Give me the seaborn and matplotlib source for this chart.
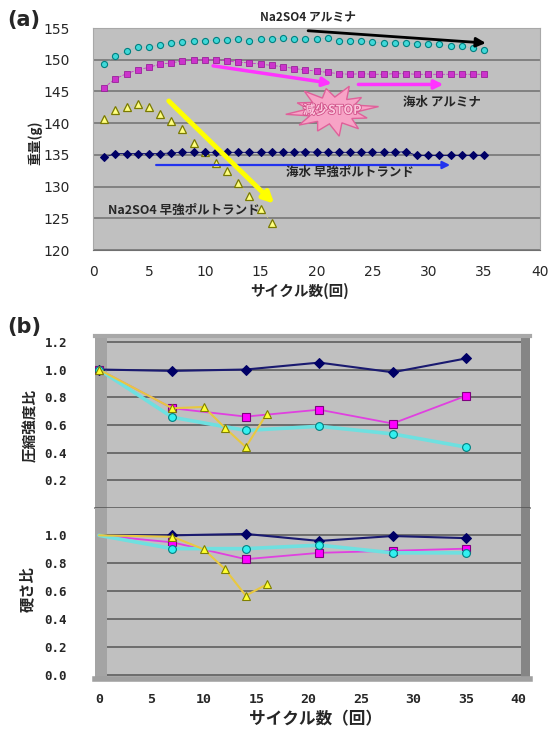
import numpy as np
import matplotlib
matplotlib.use("Agg")
import matplotlib.pyplot as plt
import matplotlib.patheffects as pe
from matplotlib.patches import Polygon
import seaborn as sns

sns.set_style("white")
plt.rcParams["font.family"] = ["Noto Sans CJK JP", "DejaVu Sans"]

# ---- (a) weight vs cycles ----
cycles_a = list(range(1, 36))
w_na2so4_alumina = [149.4, 150.6, 151.3, 152.0, 152.0, 152.3, 152.6, 152.8, 153.0, 153.0,
                    153.1, 153.1, 153.2, 153.0, 153.2, 153.3, 153.4, 153.2, 153.3, 153.3,
                    153.4, 152.9, 153.0, 153.0, 152.8, 152.6, 152.7, 152.7, 152.5, 152.5,
                    152.4, 152.2, 152.2, 151.8, 151.6]
w_sea_alumina = [145.6, 147.0, 147.8, 148.4, 148.8, 149.3, 149.5, 149.8, 149.9, 150.0,
                 150.0, 149.8, 149.6, 149.5, 149.3, 149.1, 148.9, 148.6, 148.4, 148.2,
                 148.0, 147.8, 147.7, 147.8, 147.7, 147.7, 147.8, 147.8, 147.7, 147.7,
                 147.7, 147.7, 147.7, 147.7, 147.7]
cycles_a_hes = list(range(1, 17))
w_na2so4_hes = [140.6, 142.0, 142.6, 143.0, 142.6, 141.5, 140.3, 139.0, 136.9, 135.4,
                133.7, 132.4, 130.6, 128.5, 126.4, 124.3]
w_sea_hes = [134.6, 135.2, 135.2, 135.2, 135.2, 135.2, 135.3, 135.4, 135.4, 135.4,
             135.4, 135.4, 135.4, 135.4, 135.4, 135.4, 135.4, 135.4, 135.5, 135.4,
             135.4, 135.4, 135.4, 135.4, 135.4, 135.4, 135.4, 135.5, 134.9, 134.9,
             134.9, 134.9, 134.9, 134.9, 134.9]
a_xticks = [0, 5, 10, 15, 20, 25, 30, 35, 40]
a_yticks = [120, 125, 130, 135, 140, 145, 150, 155]

# ---- (b) strength / hardness ratios ----
cycles_b = [0, 7, 14, 21, 28, 35]
cycles_b_hes = [0, 7, 10, 12, 14, 16]
cs_sea_hes = [1.0, 0.99, 1.0, 1.05, 0.98, 1.08]
cs_sea_alumina = [1.0, 0.72, 0.66, 0.71, 0.61, 0.81]
cs_na2so4_alumina = [1.0, 0.655, 0.56, 0.59, 0.535, 0.44]
cs_na2so4_hes = [1.0, 0.72, 0.73, 0.58, 0.44, 0.68]
hd_sea_hes = [1.0, 1.0, 1.01, 0.96, 0.995, 0.98]
hd_sea_alumina = [1.0, 0.95, 0.83, 0.875, 0.89, 0.905]
hd_na2so4_alumina = [1.0, 0.905, 0.905, 0.93, 0.875, 0.875]
hd_na2so4_hes = [1.0, 0.99, 0.90, 0.76, 0.57, 0.65]
b_xticks = [0, 5, 10, 15, 20, 25, 30, 35, 40]
cs_yticks = [0.2, 0.4, 0.6, 0.8, 1.0, 1.2]
hd_yticks = [0.0, 0.2, 0.4, 0.6, 0.8, 1.0]

BG = "#c0c0c0"
narrow = ["Liberation Sans Narrow", "DejaVu Sans"]
mono = ["DejaVu Sans Mono"]
jp = ["Noto Sans CJK JP", "DejaVu Sans"]

fig = plt.figure(figsize=(5.48, 7.29), dpi=100)
W, H = 548, 729


def box(l, t, r, b):
    return [l / W, 1 - b / H, (r - l) / W, (b - t) / H]


# ================= (a) =================
ax = fig.add_axes(box(93, 28, 540, 250))
ax.set_facecolor(BG)
ax.set_axisbelow(True)
ax.yaxis.grid(True, color="#707070", lw=1.1)
ax.xaxis.grid(False)

sns.lineplot(x=cycles_a, y=w_na2so4_alumina, ax=ax, color="#5fd0d0", lw=0.5, ls=":",
             marker="o", ms=4.4, mfc="#40d8d8", mec="#008080", mew=0.8)
sns.lineplot(x=cycles_a, y=w_sea_alumina, ax=ax, color="#cc33cc", lw=0.6, ls="--",
             marker="s", ms=4.4, mfc="#cc33cc", mec="#992299", mew=0.6)
sns.lineplot(x=cycles_a_hes, y=w_na2so4_hes, ax=ax, color="#e0e060", lw=0.6, ls=":",
             marker="^", ms=5.8, mfc="#ffff80", mec="#7a7a00", mew=0.9)
sns.lineplot(x=cycles_a, y=w_sea_hes, ax=ax, color="#000066", lw=0.6,
             marker="D", ms=3.6, mfc="#000066", mec="#000066")

ax.set_xlim(0, 40)
ax.set_ylim(120, 155)
ax.set_xticks(a_xticks)
ax.set_yticks(a_yticks)
ax.set_xticklabels([str(v) for v in a_xticks], family=narrow, fontsize=10)
ax.set_yticklabels([str(v) for v in a_yticks], family=narrow, fontsize=10)
ax.tick_params(axis="x", direction="in", length=3, color="#555555", pad=11)
ax.tick_params(axis="y", length=0, pad=17)
for s in ["top", "left", "right"]:
    ax.spines[s].set_color("#a8a8a8")
ax.spines["bottom"].set_color("#707070")
ax.set_xlabel("")
ax.set_ylabel("")

# arrows
ax.annotate("", xy=(35.4, 152.6), xytext=(19.0, 154.6),
            arrowprops=dict(arrowstyle="-|>", color="black", lw=2, mutation_scale=14))
ax.annotate("", xy=(21.6, 146.2), xytext=(10.5, 149.1),
            arrowprops=dict(arrowstyle="-|>", color="#ff33ff", lw=2.5, mutation_scale=13))
ax.annotate("", xy=(31.6, 146.1), xytext=(23.5, 146.1),
            arrowprops=dict(arrowstyle="-|>", color="#ff33ff", lw=2.5, mutation_scale=13))
ax.annotate("", xy=(32.2, 133.4), xytext=(5.4, 133.4),
            arrowprops=dict(arrowstyle="-|>", color="#2233ee", lw=1.6, mutation_scale=11))
ax.annotate("", xy=(16.4, 127.0), xytext=(6.6, 143.8),
            arrowprops=dict(arrowstyle="-|>", color="#ffff00", lw=3.5, mutation_scale=16))

# starburst
cx, cy = 21.4, 142.0
outer = [1.0, 0.8, 1.0, 0.85, 0.95, 0.8, 1.0, 0.9, 0.85, 1.0, 0.9, 0.8]
ang = np.linspace(0, 2 * np.pi, 2 * len(outer), endpoint=False) + 0.15
rad = np.empty(2 * len(outer))
rad[0::2] = outer
rad[1::2] = 0.52
verts = np.column_stack([cx + 4.2 * rad * np.cos(ang), cy + 4.1 * rad * np.sin(ang)])
ax.add_patch(Polygon(verts, closed=True, fc="#f7a3c6", ec="#e0609a", lw=1, zorder=4))
ax.text(cx, cy, "減少STOP", ha="center", va="center", fontsize=9, fontweight="bold",
        color="#fbc6dc", family=jp, zorder=5,
        path_effects=[pe.withStroke(linewidth=1.2, foreground="#d05088")])

# labels inside (a)
ax.text(19.2, 156.7, "Na2SO4 アルミナ", ha="center", va="center", fontsize=8.5,
        fontweight="bold", family=jp, clip_on=False)
ax.text(31.2, 143.2, "海水 アルミナ", ha="center", va="center", fontsize=9,
        fontweight="bold", family=jp)
ax.text(23.0, 132.3, "海水 早強ポルトランド", ha="center", va="center", fontsize=9,
        fontweight="bold", family=jp)
ax.text(8.15, 126.2, "Na2SO4 早強ポルトランド", ha="center", va="center", fontsize=9,
        fontweight="bold", family=jp)

fig.text(35 / W, 1 - 143 / H, "重量(g)", rotation=90, ha="center", va="center",
         fontsize=9.5, fontweight="bold", family=jp)
fig.text(300 / W, 1 - 291 / H, "サイクル数(回)", ha="center", va="center",
         fontsize=10.5, fontweight="bold", family=jp)
fig.text(24 / W, 1 - 20 / H, "(a)", ha="center", va="center", fontsize=15,
         fontweight="bold", family=["DejaVu Sans"])


# ================= (b) =================
def style_b(axb, yticks, ylim):
    axb.set_facecolor(BG)
    axb.set_axisbelow(True)
    axb.yaxis.grid(True, color="#555555", lw=1.1)
    axb.xaxis.grid(False)
    axb.set_xlim(-0.38, 41.1)
    axb.set_ylim(*ylim)
    axb.axvspan(-0.38, 0.76, color="#a4a4a4", zorder=1, lw=0)
    axb.axvspan(40.2, 41.1, color="#858585", zorder=1, lw=0)
    axb.set_xticks(b_xticks)
    axb.set_yticks(yticks)
    axb.set_yticklabels([f"{v:.1f}" for v in yticks], family=mono, fontsize=9,
                        fontweight="bold")
    axb.tick_params(axis="y", length=0, pad=20)
    axb.tick_params(axis="x", direction="in", length=3, color="#555555")
    for s in ["left", "right"]:
        axb.spines[s].set_visible(False)
    axb.set_xlabel("")
    axb.set_ylabel("")


def draw_b(axb, navy, mag, cyan, yel, first_marker):
    mk = slice(0, None) if first_marker else slice(1, None)
    sns.lineplot(x=cycles_b, y=navy, ax=axb, color="#1a1a70", lw=1.5, marker="D",
                 ms=5, mfc="#000066", mec="#000066", markevery=mk, zorder=3)
    sns.lineplot(x=cycles_b, y=mag, ax=axb, color="#e040e0", lw=1.3, marker="s",
                 ms=5.8, mfc="#ff00ff", mec="#800080", mew=0.8, markevery=mk, zorder=3)
    sns.lineplot(x=cycles_b, y=cyan, ax=axb, color="#6ee0e0", lw=2.6, marker="o",
                 ms=5.6, mfc="#33f0f0", mec="#008080", mew=0.8, markevery=mk, zorder=3)
    sns.lineplot(x=cycles_b_hes, y=yel, ax=axb, color="#e8c840", lw=1.5, marker="^",
                 ms=6.3, mfc="#ffff30", mec="#808000", mew=0.8, markevery=mk, zorder=3)


axt = fig.add_axes(box(95, 336, 530, 508))
draw_b(axt, cs_sea_hes, cs_sea_alumina, cs_na2so4_alumina, cs_na2so4_hes, True)
style_b(axt, cs_yticks, (0, 1.242))
axt.tick_params(axis="x", labelbottom=False)
axt.spines["top"].set_color("#a8a8a8")
axt.spines["top"].set_linewidth(3)
axt.spines["bottom"].set_color("#555555")
axt.spines["bottom"].set_linewidth(1.1)

axl = fig.add_axes(box(95, 508, 530, 679))
draw_b(axl, hd_sea_hes, hd_sea_alumina, hd_na2so4_alumina, hd_na2so4_hes, False)
style_b(axl, hd_yticks, (-0.025, 1.195))
axl.set_xticklabels([str(v) for v in b_xticks], family=mono, fontsize=9.5,
                    fontweight="bold")
axl.tick_params(axis="x", pad=10)
axl.spines["top"].set_visible(False)
axl.spines["bottom"].set_color("#a0a0a0")
axl.spines["bottom"].set_linewidth(4)

fig.text(30 / W, 1 - 425 / H, "圧縮強度比", rotation=90, ha="center", va="center",
         fontsize=10.5, fontweight="bold", family=jp)
fig.text(27 / W, 1 - 589 / H, "硬さ比", rotation=90, ha="center", va="center",
         fontsize=11, fontweight="bold", family=jp)
fig.text(316 / W, 1 - 719 / H, "サイクル数（回）", ha="center", va="center",
         fontsize=12, fontweight="bold", family=jp)
fig.text(24 / W, 1 - 327 / H, "(b)", ha="center", va="center", fontsize=15,
         fontweight="bold", family=["DejaVu Sans"])

fig.savefig("out.png", dpi=100)
